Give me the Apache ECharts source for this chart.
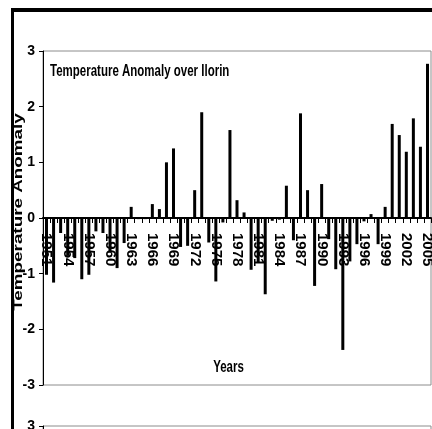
<!DOCTYPE html>
<html>
<head>
<meta charset="utf-8">
<script src="https://cdn.jsdelivr.net/npm/echarts@6/dist/echarts.min.js"></script>
<style>
html,body{margin:0;padding:0;background:#fff;}
#c{width:432px;height:429px;}
</style>
</head>
<body>
<div id="c"></div>
<script>
const years = ['1951','1952','1953','1954','1955','1956','1957','1958','1959','1960',
  '1961','1962','1963','1964','1965','1966','1967','1968','1969','1970',
  '1971','1972','1973','1974','1975','1976','1977','1978','1979','1980',
  '1981','1982','1983','1984','1985','1986','1987','1988','1989','1990',
  '1991','1992','1993','1994','1995','1996','1997','1998','1999','2000',
  '2001','2002','2003','2004','2005'];
const anomaly = [-1.02,-1.16,-0.27,-0.68,-0.72,-1.1,-1.02,-0.24,-0.27,-0.62,
  -0.9,-0.45,0.2,-0.02,-0.02,0.25,0.16,1.0,1.25,-0.52,
  -0.5,0.5,1.9,-0.44,-1.14,-0.08,1.58,0.32,0.1,-0.93,
  -0.8,-1.37,-0.05,-0.03,0.58,-0.4,1.88,0.5,-1.22,0.61,
  -0.38,-0.92,-2.37,-0.78,-0.47,-0.06,0.07,-0.47,0.2,1.69,
  1.49,1.19,1.79,1.28,2.77];
const yMin = -3, yMax = 3, yStep = 1;
const titleText = 'Temperature Anomaly over Ilorin';
const xName = 'Years';
const yName = 'Temperature Anomaly';

const chart = echarts.init(document.getElementById('c'), null, {renderer: 'canvas'});
const yAxisBase = (gi) => ({
  type: 'value', gridIndex: gi, min: yMin, max: yMax, interval: yStep,
  axisLine: {show: true, onZero: false, lineStyle: {color: '#000', width: 1}},
  axisTick: {show: true, length: 4, lineStyle: {color: '#000', width: 1}},
  axisLabel: {margin: 8, color: '#000', fontWeight: 'bold', fontSize: 14,
    fontFamily: "'Liberation Sans Narrow', 'Liberation Sans', Arial, sans-serif"},
  splitLine: {show: false}
});
chart.setOption({
  animation: false,
  backgroundColor: '#fff',
  grid: [
    {left: 43, right: 1, top: 51, bottom: 44, show: true, borderColor: '#8c8c8c', borderWidth: 1,
      containLabel: false, outerBoundsMode: 'none'},
    {left: 43, right: 1, top: 426, height: 334, show: true, borderColor: '#8c8c8c', borderWidth: 1,
      containLabel: false, outerBoundsMode: 'none'}
  ],
  xAxis: [
    {type: 'category', gridIndex: 0, data: years, boundaryGap: true, offset: 0,
      axisLine: {show: true, onZero: false, lineStyle: {color: '#000', width: 2}},
      axisTick: {show: true, interval: 0, length: 5, lineStyle: {color: '#000', width: 1}},
      axisLabel: {interval: 2, rotate: -90, margin: 15, color: '#000', fontWeight: 'bold', fontSize: 15,
        fontFamily: "'Liberation Sans', Arial, sans-serif"},
      splitLine: {show: false}},
    {type: 'category', gridIndex: 1, data: years, show: false}
  ],
  yAxis: [yAxisBase(0), yAxisBase(1)],
  series: [{
    type: 'bar', xAxisIndex: 0, yAxisIndex: 0, data: anomaly, barWidth: 3,
    itemStyle: {color: '#000'}, emphasis: {disabled: true}
  }],
  graphic: [
    {type: 'text', x: 50, y: 71.5, scaleY: 1.4, z: 50,
      style: {text: titleText, fontSize: 11.5, fontWeight: 'bold', fontFamily: "'Liberation Sans', Arial",
        fill: '#000', align: 'left', verticalAlign: 'middle'}},
    {type: 'text', x: 228.5, y: 367.5, scaleY: 1.4, z: 50,
      style: {text: xName, fontSize: 11.5, fontWeight: 'bold', fontFamily: "'Liberation Sans', Arial",
        fill: '#000', align: 'center', verticalAlign: 'middle'}},
    {type: 'text', x: 18, y: 212, rotation: Math.PI / 2, scaleX: 1.45, z: 50,
      style: {text: yName, fontSize: 13, fontWeight: 'bold', fontFamily: "'Liberation Sans', Arial",
        fill: '#000', align: 'center', verticalAlign: 'middle'}},
    {type: 'line', z: 100, shape: {x1: 12.5, y1: 8, x2: 12.5, y2: 429}, style: {stroke: '#000', lineWidth: 3}},
    {type: 'line', z: 100, shape: {x1: 11, y1: 10, x2: 432, y2: 10}, style: {stroke: '#000', lineWidth: 4}}
  ]
});
// move the category axis (line, ticks, labels) up to the value-axis zero, as in the original
const zeroY = chart.convertToPixel({yAxisIndex: 0}, 0);
const bottomY = chart.convertToPixel({yAxisIndex: 0}, yMin);
chart.setOption({xAxis: [{offset: zeroY - bottomY}, {}]});
</script>
</body>
</html>
